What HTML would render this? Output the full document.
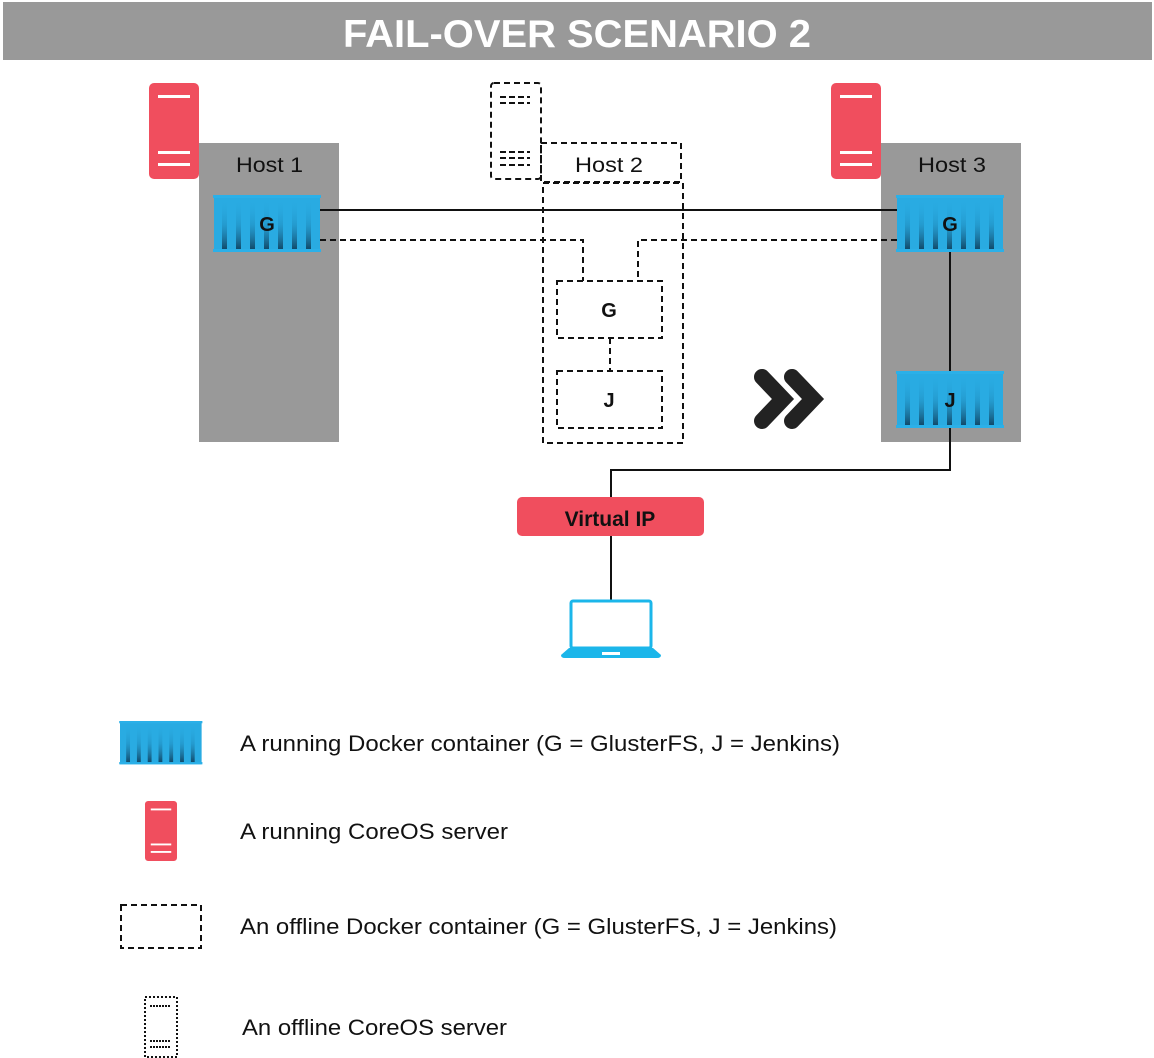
<!DOCTYPE html>
<html><head><meta charset="utf-8"><style>
body{margin:0;background:#fff}
svg{display:block;font-family:"Liberation Sans",Arial,sans-serif}
</style></head><body>
<svg width="1154" height="1058" viewBox="0 0 1154 1058" xmlns="http://www.w3.org/2000/svg">
<defs>
<linearGradient id="st" x1="0" y1="0" x2="0" y2="1">
<stop offset="0" stop-color="#29abe2" stop-opacity="0"/>
<stop offset="0.5" stop-color="#1d85b5" stop-opacity="0.4"/>
<stop offset="1" stop-color="#124a6a"/>
</linearGradient>
<g id="cont">
<rect x="0" y="0" width="106" height="57" fill="#29abe2"/>
<rect x="-1" y="0" width="108" height="3" fill="#2bb0e8"/>
<rect x="-1" y="54" width="108" height="3" fill="#2bb0e8"/>
<g fill="url(#st)">
<rect x="8" y="4" width="5" height="50"/><rect x="22" y="4" width="5" height="50"/>
<rect x="36" y="4" width="5" height="50"/><rect x="50" y="4" width="5" height="50"/>
<rect x="64" y="4" width="5" height="50"/><rect x="78" y="4" width="5" height="50"/>
<rect x="92" y="4" width="5" height="50"/>
</g>
</g>
<g id="srv">
<rect x="0" y="0" width="50" height="96" rx="5" fill="#f04e5e"/>
<rect x="9" y="12" width="32" height="3" fill="#fff"/>
<rect x="9" y="68" width="32" height="3" fill="#fff"/>
<rect x="9" y="80" width="32" height="3" fill="#fff"/>
</g>
</defs>
<rect x="3" y="2" width="1149" height="58" fill="#999"/>
<text x="343" y="47" textLength="468" lengthAdjust="spacingAndGlyphs" font-size="39" font-weight="bold" fill="#fff">FAIL-OVER SCENARIO 2</text>

<rect x="199" y="143" width="140" height="299" fill="#999"/>
<rect x="881" y="143" width="140" height="299" fill="#999"/>
<use href="#srv" x="149" y="83"/>
<use href="#srv" x="831" y="83"/>
<text x="236" y="172" textLength="67" lengthAdjust="spacingAndGlyphs" font-size="21" fill="#111">Host 1</text>
<text x="918" y="172" textLength="68" lengthAdjust="spacingAndGlyphs" font-size="21" fill="#111">Host 3</text>

<g fill="none" stroke="#111" stroke-width="2" stroke-dasharray="6 4">
<rect x="491" y="83" width="50" height="96" rx="3"/>
<rect x="541" y="143" width="140" height="39"/>
<rect x="543" y="183" width="140" height="260"/>
<rect x="557" y="281" width="105" height="57"/>
<rect x="557" y="371" width="105" height="57"/>
<path d="M320 240 H583 V281 M897 240 H638 V281 M610 338 V371"/>
<path d="M500 97h30M500 103h30M500 152h30M500 158h30M500 165h30" stroke-width="2" stroke-dasharray="6 3"/>
</g>
<text x="575" y="172" textLength="68" lengthAdjust="spacingAndGlyphs" font-size="21" fill="#111">Host 2</text>
<text x="609" y="317" text-anchor="middle" font-size="20" font-weight="bold" fill="#111">G</text>
<text x="609" y="407" text-anchor="middle" font-size="20" font-weight="bold" fill="#111">J</text>

<use href="#cont" x="214" y="195"/>
<use href="#cont" x="897" y="195"/>
<use href="#cont" x="897" y="371"/>
<g fill="none" stroke="#111" stroke-width="2">
<path d="M320 210 H897"/>
<path d="M950 252 V371 M950 428 V470 H611 V497 M611 536 V600"/>
</g>
<text x="267" y="231" text-anchor="middle" font-size="20" font-weight="bold" fill="#111">G</text>
<text x="950" y="231" text-anchor="middle" font-size="20" font-weight="bold" fill="#111">G</text>
<text x="950" y="407" text-anchor="middle" font-size="20" font-weight="bold" fill="#111">J</text>

<g fill="none" stroke-linejoin="miter" stroke-linecap="round" stroke-width="16">
<path d="M792 377 L813 399 L792 421" stroke="#222"/>
<path d="M762 377 L783 399 L762 421" stroke="#fff" stroke-width="22"/>
<path d="M762 377 L783 399 L762 421" stroke="#222"/>
</g>

<rect x="517" y="497" width="187" height="39" rx="5" fill="#f04e5e"/>
<text x="610" y="526" text-anchor="middle" font-size="21" font-weight="bold" fill="#111">Virtual IP</text>

<rect x="571" y="601" width="80" height="47" rx="2" fill="none" stroke="#1bb6ea" stroke-width="3"/>
<path d="M569 648 H653 L661 655 Q661 658 657 658 H565 Q561 658 561 655 Z" fill="#1bb6ea"/>
<rect x="602" y="652" width="18" height="3" fill="#fff"/>

<g transform="translate(120,721) scale(0.77,0.76)"><use href="#cont"/></g>
<g transform="translate(145,801) scale(0.64,0.625)"><use href="#srv"/></g>
<rect x="121" y="905" width="80" height="43" fill="none" stroke="#111" stroke-width="2" stroke-dasharray="6 4"/>
<rect x="145" y="997" width="32" height="60" fill="none" stroke="#111" stroke-width="2" stroke-dasharray="2 2"/>
<path d="M150 1006h20M150 1041h20M150 1047h20" stroke="#111" stroke-width="2" stroke-dasharray="2 1"/>
<g font-size="22" fill="#111">
<text x="240" y="751" textLength="600" lengthAdjust="spacingAndGlyphs">A running Docker container (G = GlusterFS, J = Jenkins)</text>
<text x="240" y="839" textLength="268" lengthAdjust="spacingAndGlyphs">A running CoreOS server</text>
<text x="240" y="934" textLength="597" lengthAdjust="spacingAndGlyphs">An offline Docker container (G = GlusterFS, J = Jenkins)</text>
<text x="242" y="1035" textLength="265" lengthAdjust="spacingAndGlyphs">An offline CoreOS server</text>
</g>
</svg>
</body></html>
